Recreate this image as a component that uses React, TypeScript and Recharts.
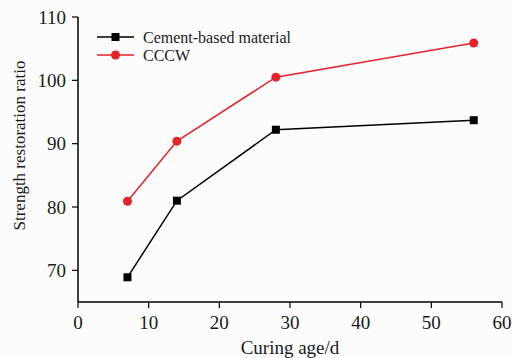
import React from "react";
import {
  LineChart,
  Line,
  XAxis,
  YAxis,
  Legend,
} from "recharts";

// Curing age in days
const curingAge = [7, 14, 28, 56];
// Strength restoration ratio per series
const cementBased = [68.9, 81.0, 92.2, 93.7];
const cccw = [80.9, 90.4, 100.5, 105.9];

const xTicks = [0, 10, 20, 30, 40, 50, 60];
const yTicks = [70, 80, 90, 100, 110];

const seriesNames = { cement: "Cement-based material", cccw: "CCCW" };

const data = curingAge.map((d, i) => ({
  age: d,
  cement: cementBased[i],
  cccw: cccw[i],
}));

const FONT = "'Liberation Serif', 'Times New Roman', serif";
const INK = "#1a1a1a";
const RED = "#e8212a";

const SquareDot = (props: any) => {
  const { cx, cy } = props;
  if (cx == null || cy == null) return null;
  return <rect x={cx - 4} y={cy - 4} width={8} height={8} fill="#000" />;
};

const RoundDot = (props: any) => {
  const { cx, cy } = props;
  if (cx == null || cy == null) return null;
  return <circle cx={cx} cy={cy} r={4.5} fill={RED} />;
};

const LegendBox = () => (
  <svg width={200} height={40} style={{ display: "block", overflow: "visible" }}>
    <g>
      <line x1={0} y1={9} x2={37} y2={9} stroke="#000" strokeWidth={1.5} />
      <rect x={14.5} y={5} width={8} height={8} fill="#000" />
      <text x={46} y={9} dominantBaseline="central" fontFamily={FONT} fontSize={16} fill={INK}>
        {seriesNames.cement}
      </text>
    </g>
    <g>
      <line x1={0} y1={27} x2={37} y2={27} stroke={RED} strokeWidth={1.5} />
      <circle cx={18.5} cy={27} r={4.5} fill={RED} />
      <text x={46} y={27} dominantBaseline="central" fontFamily={FONT} fontSize={16} fill={INK}>
        {seriesNames.cccw}
      </text>
    </g>
  </svg>
);

const YTitle = (props: any) => {
  const vb = props.viewBox || {};
  const x = (vb.x ?? 0) + 19.5;
  const y = (vb.y ?? 0) + (vb.height ?? 0) / 2 - 14;
  return (
    <text
      x={x}
      y={y}
      transform={`rotate(-90, ${x}, ${y})`}
      textAnchor="middle"
      dominantBaseline="central"
      fontFamily={FONT}
      fontSize={17}
      fill={INK}
    >
      Strength restoration ratio
    </text>
  );
};

export default function App() {
  return (
    <div
      style={{
        position: "absolute",
        left: 0,
        top: 0,
        width: 512,
        height: 358,
        background: "#fcfcfc",
      }}
    >
      <LineChart
        width={512}
        height={358}
        data={data}
        margin={{ top: 17, right: 10, left: 0, bottom: 0 }}
      >
        <XAxis
          dataKey="age"
          type="number"
          domain={[0, 60]}
          ticks={xTicks}
          height={56}
          axisLine={{ stroke: "#000", strokeWidth: 1.5 }}
          tickLine={{ stroke: "#000", strokeWidth: 1.2 }}
          tickSize={6}
          tickMargin={8}
          tick={{ fontFamily: FONT, fontSize: 19, fill: INK }}
          label={{
            value: "Curing age/d",
            position: "insideBottom",
            offset: 4,
            fontFamily: FONT,
            fontSize: 19,
            fill: INK,
          }}
        />
        <YAxis
          type="number"
          domain={[65, 110]}
          ticks={yTicks}
          width={78}
          axisLine={{ stroke: "#000", strokeWidth: 1.5 }}
          tickLine={{ stroke: "#000", strokeWidth: 1.2 }}
          tickSize={6}
          tickMargin={6}
          tick={{ fontFamily: FONT, fontSize: 19, fill: INK }}
          label={<YTitle />}
        />
        <Legend
          layout="vertical"
          align="center"
          verticalAlign="middle"
          wrapperStyle={{ position: "absolute", left: 97, top: 28, width: 200 }}
          content={() => <LegendBox />}
        />
        <Line
          type="linear"
          dataKey="cement"
          name={seriesNames.cement}
          stroke="#000"
          strokeWidth={1.5}
          dot={<SquareDot />}
          activeDot={false}
          isAnimationActive={false}
        />
        <Line
          type="linear"
          dataKey="cccw"
          name={seriesNames.cccw}
          stroke={RED}
          strokeWidth={1.5}
          dot={<RoundDot />}
          activeDot={false}
          isAnimationActive={false}
        />
      </LineChart>
    </div>
  );
}
